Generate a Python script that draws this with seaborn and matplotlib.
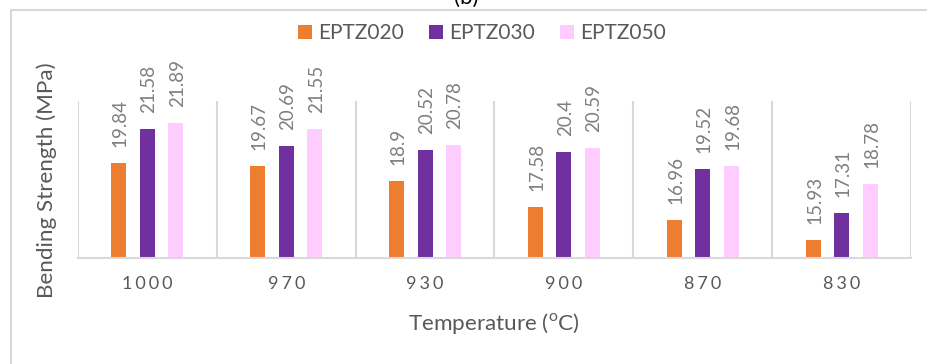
import matplotlib
matplotlib.use("Agg")
import matplotlib.pyplot as plt
from matplotlib.lines import Line2D
import pandas as pd
import seaborn as sns

# Bending strength by sintering temperature for three compositions
temperatures = ["1000", "970", "930", "900", "870", "830"]
series_names = ["EPTZ020", "EPTZ030", "EPTZ050"]
eptz020 = [19.84, 19.67, 18.9, 17.58, 16.96, 15.93]
eptz030 = [21.58, 20.69, 20.52, 20.4, 19.52, 17.31]
eptz050 = [21.89, 21.55, 20.78, 20.59, 19.68, 18.78]
colors = ["#ED7D31", "#7030A0", "#FFCCFF"]

values = [eptz020, eptz030, eptz050]
df = pd.DataFrame({
    "Temperature": temperatures * 3,
    "Strength": eptz020 + eptz030 + eptz050,
    "Series": [s for s in series_names for _ in temperatures],
})

sns.set_theme(style="white")
plt.rcParams["font.family"] = ["Lato", "DejaVu Sans"]
plt.rcParams["mathtext.fontset"] = "custom"
plt.rcParams["mathtext.rm"] = "Lato"

W, H = 928, 364
fig = plt.figure(figsize=(W / 100, H / 100), dpi=100)
ax = fig.add_axes([78 / W, 1 - 258 / H, (911 - 78) / W, (258 - 101) / H])

sns.barplot(data=df, x="Temperature", y="Strength", hue="Series",
            order=temperatures, hue_order=series_names, palette=colors,
            width=0.616, gap=0.47, saturation=1, linewidth=0, ax=ax)

ax.set_ylim(15, 23)
ax.set_xlim(-0.5, len(temperatures) - 0.5)
ax.set_yticks([])
ax.set_xlabel("")
ax.set_ylabel("")

grid_col = "#D9D9D9"
for side in ["top", "right", "left"]:
    ax.spines[side].set_visible(False)
ax.spines["bottom"].set_color(grid_col)
ax.spines["bottom"].set_linewidth(1.5)

# category separators
for b in range(len(temperatures) + 1):
    ax.axvline(b - 0.5, color=grid_col, lw=1.5, zorder=0)

# letter-spaced category labels
ax.set_xticks(range(len(temperatures)))
ax.set_xticklabels(["\u2006".join(t) for t in temperatures])
ax.tick_params(axis="x", length=0, pad=13, labelsize=13, labelcolor="#595959")

# value labels above each bar
for i, vals in enumerate(values):
    for j, v in enumerate(vals):
        p = ax.containers[i][j]
        xc = p.get_x() + p.get_width() / 2
        ax.annotate(f"{v:g}", xy=(xc, v), xytext=(0, 11.5),
                    textcoords="offset points", rotation=90,
                    rotation_mode="anchor", ha="left", va="center_baseline",
                    fontsize=13.5, color="#7F7F7F", annotation_clip=False)

handles, labels = ax.get_legend_handles_labels()
ax.get_legend().remove()
fig.legend(handles, labels, loc="center", bbox_to_anchor=(482 / W, 1 - 33 / H),
           ncol=3, frameon=False, fontsize=15, labelcolor="#595959",
           handlelength=0.67, handleheight=0.67, handletextpad=0.3,
           columnspacing=1.2)

fig.text(47 / W, 1 - 180.5 / H, "Bending Strength (MPa)", rotation=90,
         ha="center", va="center", fontsize=16.2, color="#595959")
fig.text(494 / W, 1 - 323 / H, r"Temperature ($^{\mathrm{o}}$C)",
         ha="center", va="center", fontsize=16.2, color="#595959")

# panel tag, sitting just above the chart frame
fig.text(466 / W, 1 - 4 / H, "(b)", ha="center", va="baseline",
         fontsize=16, color="black")

# chart frame
fig.add_artist(Line2D([11 / W, 1.0], [1 - 10 / H, 1 - 10 / H],
                      transform=fig.transFigure, color=grid_col, lw=1.5))
fig.add_artist(Line2D([11 / W, 11 / W], [0.0, 1 - 10 / H],
                      transform=fig.transFigure, color=grid_col, lw=1.5))

fig.savefig("out.png", dpi=100)
